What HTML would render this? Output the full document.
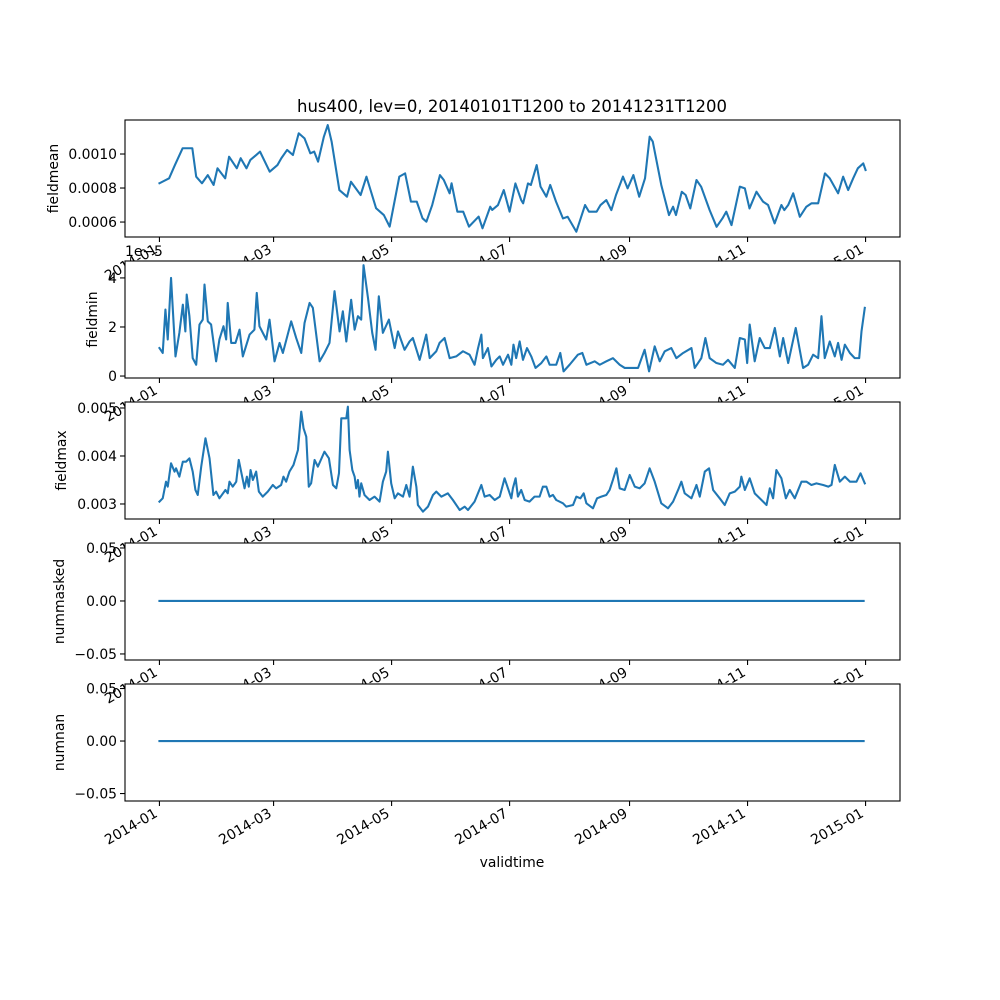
<!DOCTYPE html>
<html><head><meta charset="utf-8"><style>
html,body{margin:0;padding:0;background:#fff;}
svg{display:block;font-family:"DejaVu Sans","Liberation Sans",sans-serif;}
</style></head><body>
<svg id="fig" width="1000" height="1000" viewBox="0 0 1000 1000"></svg>
<script>
// x tick data
const xTickDays = [0, 59, 120, 181, 243, 304, 365];
const xTickLabels = ["2014-01","2014-03","2014-05","2014-07","2014-09","2014-11","2015-01"];

// fieldmean
const meanDays = [0,5,8,12,17,19,22,25,28,30,34,36,40,42,45,47,50,52,57,61,63,66,69,72,75,78,80,82,85,87,89,93,97,99,104,107,112,116,119,124,127,130,133,136,138,141,145,147,150,151,154,157,160,165,167,171,172,175,178,181,184,187,188,190.5,192,195,197,200,202,205,208.6,211,215.5,220,222,226,228,231,233.6,236,239.6,242,245,248,251,253.4,255,259.4,263.4,265.5,267,270,272,274.4,277.6,280,284.4,288,291,293,295.7,300,302.6,305,308.6,312,314.6,318,321.5,323,325,327.6,331,334.4,337,340.5,344,346.5,350.8,353.4,356,358.6,361,363.8,365];
const meanVals = [0.000828,0.000857,0.000935,0.001034,0.001034,0.000867,0.000828,0.000876,0.000818,0.000916,0.000857,0.000984,0.000916,0.000975,0.000916,0.000965,0.000994,0.001014,0.000896,0.000935,0.000975,0.001024,0.000994,0.001122,0.001092,0.001004,0.001014,0.000955,0.001102,0.00117,0.001073,0.000788,0.000749,0.000837,0.000759,0.000867,0.000681,0.000641,0.000573,0.000867,0.000886,0.00072,0.00072,0.000622,0.000602,0.0007,0.000876,0.000847,0.000769,0.000828,0.000661,0.000661,0.000573,0.000632,0.000563,0.00069,0.000671,0.0007,0.000788,0.000661,0.000827,0.000729,0.00071,0.000827,0.000818,0.000935,0.000808,0.000749,0.000818,0.00072,0.000621,0.000631,0.000543,0.0007,0.000661,0.000661,0.0007,0.000729,0.00067,0.000759,0.000867,0.000798,0.000876,0.000749,0.000857,0.001102,0.001073,0.000818,0.000641,0.00069,0.000641,0.000778,0.000759,0.00068,0.000847,0.000808,0.00067,0.000572,0.000621,0.000661,0.000582,0.000808,0.000798,0.00068,0.000778,0.00072,0.0007,0.000592,0.0007,0.00067,0.0007,0.000769,0.000631,0.00069,0.00071,0.00071,0.000886,0.000857,0.000769,0.000867,0.000788,0.000857,0.000916,0.000945,0.000906];

// fieldmin (units of 1e-5)
const minDays = [0,1.7,3.1,4.3,6,8.3,10.3,12.1,13.4,14.1,15.5,17.2,19,20.7,22.4,23.3,25,26.7,29.3,31,33.1,34.5,35.3,37.1,39.3,41.4,43.1,46.6,49.1,50.3,51.7,55.2,56.9,59.5,62.1,63.8,68.1,70.7,73.3,75,77.6,79.3,82.8,85.3,87.9,90.5,93.1,94.8,96.6,99.1,100.9,102.6,104.3,105.5,107.8,110,111.7,113.4,115.5,118.6,121.6,123.3,126.7,129.3,131,134.5,137.9,139.7,143.1,144.8,147.4,150,153.4,156.9,160.3,162.9,164.7,166.4,167.2,169.8,171.6,174.1,175.9,177.6,180.2,181.9,183,184.4,186.2,187.9,190,192.2,194.4,197.4,200,201.7,205.1,207.2,208.9,212,216.3,218.6,220.7,225,227.6,231,234.4,237.9,240.5,243.9,247.4,250.8,253.1,256,258.6,261.2,264.6,267.2,270.7,275,276.7,280.1,282.2,284.4,287.9,291.3,293.9,297.4,300,302.6,303.8,305.1,307.7,310.3,312.9,315.5,318.1,320.7,322.4,325,328.9,332.7,335.3,337.9,340.5,342.2,343.9,346.5,349.1,350.8,352.6,354.3,356.9,359.4,361.7,362.9,364.6];
const minVals = [1.14,0.94,2.71,1.49,4.0,0.80,1.76,2.91,1.82,3.32,2.44,0.73,0.46,2.10,2.30,3.73,2.23,2.10,0.60,1.49,2.03,1.49,2.98,1.35,1.35,1.89,0.80,1.69,1.89,3.39,2.03,1.49,2.30,0.60,1.35,0.94,2.23,1.55,0.94,2.16,2.98,2.78,0.60,0.94,1.35,3.46,1.82,2.64,1.41,3.11,1.89,2.44,2.30,4.52,3.18,1.76,1.07,3.25,1.76,2.30,1.14,1.82,1.07,1.41,1.55,0.66,1.69,0.73,1.01,1.35,1.55,0.73,0.80,1.01,0.87,0.46,1.14,1.69,0.73,1.14,0.39,0.66,0.80,0.46,0.87,0.46,1.28,0.73,1.41,0.66,1.14,0.80,0.33,0.53,0.80,0.46,0.46,0.94,0.19,0.46,0.87,0.94,0.46,0.60,0.46,0.60,0.73,0.46,0.33,0.33,0.33,1.07,0.19,1.21,0.60,1.01,1.14,0.73,0.94,1.14,0.33,0.73,1.55,0.73,0.53,0.46,0.66,0.33,1.55,1.49,0.53,2.10,0.60,1.55,1.14,1.14,1.96,0.80,1.55,0.53,1.96,0.33,0.46,0.87,0.73,2.44,0.73,1.41,0.80,1.35,0.66,1.28,0.94,0.73,0.73,1.82,2.78];

// fieldmax
const maxDays = [0,1.7,3.4,4.3,6,7.8,8.6,10.3,12.1,13.8,15.5,17.2,18.6,19.8,21.6,23.8,25.9,27.9,29.3,31,34.1,35.3,36.2,37.9,39.7,41,44,45.2,46.2,47.1,48.3,50,51.4,53.4,56,58.6,60.3,62.9,64.1,65.5,67.2,69.3,71.6,73.3,74.5,75.9,77.2,78.4,80.2,81.9,85.3,87.6,89.7,91.4,92.8,94,96.6,97.4,98.3,99.7,100.9,101.7,102.6,103.4,104.3,106,108.6,111.2,113.8,115.5,117.2,118.1,119.8,121.6,123.3,125.9,127.6,129.3,131,132.8,133.6,136.2,138.8,141.4,143.1,145.7,149.1,151.7,155.2,157.8,159.5,162.9,166.4,168.1,170.7,173.3,175.9,178.4,181.9,182.7,184.1,185.3,187,188.8,191.3,193.9,196.5,198.2,200,201.7,203.4,205.1,208.6,210.3,213.8,215.5,217.6,219.3,220.7,224.1,226.2,228.4,231,232.7,234.4,236.2,237.9,240.5,243.1,245.7,248.2,250.8,253.4,256,259.4,262.9,265.5,268.1,269.8,271.5,275,277.6,279.3,281.9,284.1,286.2,289.6,292.2,294.8,297.4,300,300.8,302.6,305.1,307.7,311.2,313.8,315.5,317.2,318.9,321.5,323.8,325.8,328.4,331.9,334.4,337,339.6,343.1,345.7,347.4,349.1,351.7,354.3,356.9,360.3,362.4,364.6];
const maxVals = [0.003049,0.003118,0.003465,0.003361,0.003847,0.003674,0.003743,0.003569,0.003882,0.003882,0.003951,0.003674,0.003292,0.003188,0.003778,0.004368,0.003951,0.003188,0.003257,0.003118,0.003292,0.003222,0.003465,0.003361,0.003465,0.003917,0.003326,0.003569,0.003361,0.003708,0.0035,0.003674,0.003257,0.003153,0.003257,0.003396,0.003326,0.003396,0.003569,0.003465,0.003674,0.003813,0.004125,0.004924,0.004576,0.004403,0.003361,0.00343,0.003917,0.003778,0.00409,0.003951,0.003396,0.003326,0.003639,0.004785,0.004785,0.005028,0.004125,0.003708,0.003569,0.003326,0.0035,0.003153,0.00343,0.003188,0.003083,0.003153,0.003049,0.003465,0.003674,0.00409,0.00343,0.003118,0.003222,0.003153,0.003396,0.003153,0.003778,0.003361,0.002979,0.00284,0.002944,0.003188,0.003257,0.003153,0.003222,0.003083,0.002875,0.002944,0.002875,0.003049,0.003396,0.003153,0.003188,0.003083,0.003153,0.003535,0.003118,0.003326,0.003535,0.003153,0.003292,0.003083,0.003049,0.003153,0.003153,0.003361,0.003361,0.003153,0.003188,0.003083,0.003014,0.002944,0.002979,0.003153,0.003118,0.003222,0.003014,0.00291,0.003118,0.003153,0.003188,0.003292,0.0035,0.003743,0.003326,0.003292,0.003604,0.003361,0.003326,0.00343,0.003743,0.003465,0.003014,0.00291,0.003049,0.003292,0.003465,0.003222,0.003118,0.003396,0.003153,0.003674,0.003743,0.003292,0.003118,0.002979,0.003222,0.003257,0.003361,0.003569,0.003292,0.003535,0.003222,0.003083,0.002979,0.003326,0.003118,0.003708,0.003535,0.003118,0.003292,0.003118,0.003465,0.003465,0.003396,0.00343,0.003396,0.003361,0.003396,0.003813,0.003465,0.003569,0.003465,0.003465,0.003639,0.00343];

// nummasked / numnan
const flatDays = [0, 364];
const maskedVals = [0, 0];
const nanVals = [0, 0];

const meanTicks = [0.0006, 0.0008, 0.0010];
const meanTickLabels = ["0.0006","0.0008","0.0010"];
const minTicks = [0, 2, 4];
const minTickLabels = ["0","2","4"];
const maxTicks = [0.003, 0.004, 0.005];
const maxTickLabels = ["0.003","0.004","0.005"];
const zeroTicks = [-0.05, 0, 0.05];
const zeroTickLabels = ["\u22120.05","0.00","0.05"];

const NS = "http://www.w3.org/2000/svg";
const svg = document.getElementById("fig");
const L = 125, R = 900, D0 = -17.8, D1 = 382.8;
function xs(d){ return L + (d - D0) / (D1 - D0) * (R - L); }
function mk(tag, attrs, parent){
  const e = document.createElementNS(NS, tag);
  for (const k in attrs) e.setAttribute(k, attrs[k]);
  (parent || svg).appendChild(e);
  return e;
}

const panels = [
  {name:"fieldmean", top:120, bot:237, ymin:0.000512, ymax:0.0012, days:meanDays, vals:meanVals, ticks:meanTicks, labels:meanTickLabels, ylab:"fieldmean", ylx:58},
  {name:"fieldmin", top:261, bot:378, ymin:-0.08, ymax:4.69, days:minDays, vals:minVals, ticks:minTicks, labels:minTickLabels, ylab:"fieldmin", ylx:97},
  {name:"fieldmax", top:402, bot:519, ymin:0.002687, ymax:0.005125, days:maxDays, vals:maxVals, ticks:maxTicks, labels:maxTickLabels, ylab:"fieldmax", ylx:66},
  {name:"nummasked", top:543, bot:660, ymin:-0.0557, ymax:0.0547, days:flatDays, vals:maskedVals, ticks:zeroTicks, labels:zeroTickLabels, ylab:"nummasked", ylx:64},
  {name:"numnan", top:684, bot:801, ymin:-0.0571, ymax:0.0543, days:flatDays, vals:nanVals, ticks:zeroTicks, labels:zeroTickLabels, ylab:"numnan", ylx:64}
];

const title = mk("text", {x:512, y:112, "text-anchor":"middle", "font-size":"16.5"});
title.textContent = "hus400, lev=0, 20140101T1200 to 20141231T1200";



panels.forEach(function(p, i){
  const g = mk("g", {});
  
  
  const ys = function(v){ return p.bot - (v - p.ymin) / (p.ymax - p.ymin) * (p.bot - p.top); };
  mk("rect", {x:L, y:p.top, width:R-L, height:p.bot-p.top, fill:"#fff"}, g);
  let d = "";
  for (let k = 0; k < p.days.length; k++){
    d += (k ? "L" : "M") + xs(p.days[k]).toFixed(2) + "," + ys(p.vals[k]).toFixed(2);
  }
  const line = mk("path", {d:d, fill:"none", stroke:"#1f77b4", "stroke-width":"2.08", "stroke-linejoin":"round", "stroke-linecap":"square"}, g);
  
  
  const frame = mk("rect", {x:L, y:p.top, width:R-L, height:p.bot-p.top, fill:"none", stroke:"#000", "stroke-width":"1.1"}, g);
  
  
  p.ticks.forEach(function(t, j){
    const y = ys(t);
    mk("line", {x1:L-5, x2:L, y1:y, y2:y, stroke:"#000", "stroke-width":"1.1"}, g);
    const tl = mk("text", {x:L-8, y:y+5, "text-anchor":"end", "font-size":"13.9"}, g);
    tl.textContent = p.labels[j];
    
    
  });
  xTickDays.forEach(function(dd, j){
    const x = xs(dd);
    mk("line", {x1:x, x2:x, y1:p.bot, y2:p.bot+5, stroke:"#000", "stroke-width":"1.1"}, g);
    const tx = mk("text", {x:0, y:0, "text-anchor":"end", "font-size":"13.9", transform:"translate(" + (x-1) + "," + (p.bot+15) + ") rotate(-30)"}, g);
    tx.textContent = xTickLabels[j];
    
    
  });
  const yl = mk("text", {x:0, y:0, "text-anchor":"middle", "font-size":"13.9", transform:"translate(" + p.ylx + "," + ((p.top+p.bot)/2) + ") rotate(-90)"}, g);
  yl.textContent = p.ylab;
  
  
  if (p.name === "fieldmin"){
    const off = mk("text", {x:L, y:256, "font-size":"13.9"}, g);
    off.textContent = "1e\u22125";
    
    
  }
});

const xl = mk("text", {x:512, y:867, "text-anchor":"middle", "font-size":"13.9"});
xl.textContent = "validtime";


</script>
</body></html>
